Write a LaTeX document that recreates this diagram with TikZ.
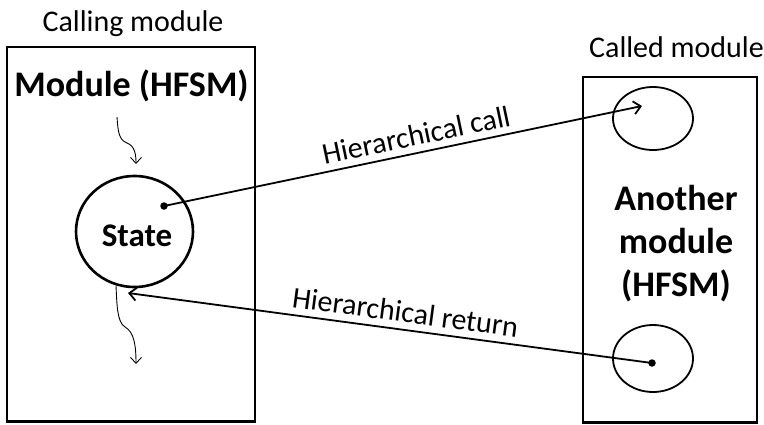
\documentclass[tikz,border=0pt]{standalone}
\usepackage{fontspec}
\setmainfont{Carlito}
\usetikzlibrary{shapes.geometric,arrows.meta}
\begin{document}
\begin{tikzpicture}[x=1pt,y=-1pt,
  modbox/.style={draw,line width=2.6pt},
  bigstate/.style={draw,ellipse,line width=2.6pt,inner sep=0pt},
  smallstate/.style={draw,ellipse,line width=1.8pt,inner sep=0pt},
  conn/.style={line width=1.8pt,-{Straight Barb[length=7pt,width=13pt,line width=1.8pt]}},
  squig/.style={line width=0.9pt,-{Straight Barb[length=6pt,width=11pt,line width=0.9pt]}},
  dotnode/.style={circle,fill,inner sep=0pt,minimum size=7.5pt},
  lbl/.style={font=\fontsize{30}{34}\selectfont},
  boldlbl/.style={font=\fontsize{36}{43}\selectfont\bfseries}]
\useasboundingbox (0,0) rectangle (764,424);
% boxes
\draw[modbox] (7,47) rectangle (255,421.5);
\draw[modbox] (583,77) rectangle (757,422.5);
% titles
\node[lbl,anchor=base] (tcalling) at (133,31) {Calling module};
\node[lbl,anchor=base] (tcalled) at (676.5,57) {Called module};
\node[boldlbl,anchor=base] (tmod) at (131.5,96.5) {Module (HFSM)};
\node[boldlbl,align=center,anchor=north] (tanother) at (676,182) {Another\\module\\(HFSM)};
% states
\node[bigstate,minimum width=117pt,minimum height=111pt] (state) at (134.5,231.5) {};
\node[font=\fontsize{33}{38}\selectfont\bfseries,anchor=base] (tstate) at (137,246) {State};
\node[smallstate,minimum width=80pt,minimum height=63pt] (s1) at (653,118.5) {};
\node[smallstate,minimum width=80pt,minimum height=67pt] (s2) at (653,358.5) {};
% dots
\node[dotnode] (d1) at (164,206) {};
\node[dotnode] (d2) at (652,363) {};
\coordinate (tip1) at (642,106);
\coordinate (tip2) at (128,293);
% connectors
\draw[conn] (d1.center) -- node[pos=0.535,sloped,above=3pt,lbl] (lcall) {Hierarchical call} (tip1);
\draw[conn] (d2.center) -- node[pos=0.475,sloped,above=3pt,lbl] (lret) {Hierarchical return} (tip2);
% squiggles
\coordinate (q1a) at (117,117);
\coordinate (q1b) at (136,164);
\draw[squig] (q1a) .. controls (118,132) and (119,140) .. (127,143) .. controls (135,146) and (136,155) .. (q1b);
\coordinate (q2a) at (116,286);
\coordinate (q2b) at (136,364);
\draw[squig] (q2a) .. controls (117,305) and (117,322) .. (125,327) .. controls (134,332) and (136,345) .. (q2b);
\end{tikzpicture}
\end{document}
